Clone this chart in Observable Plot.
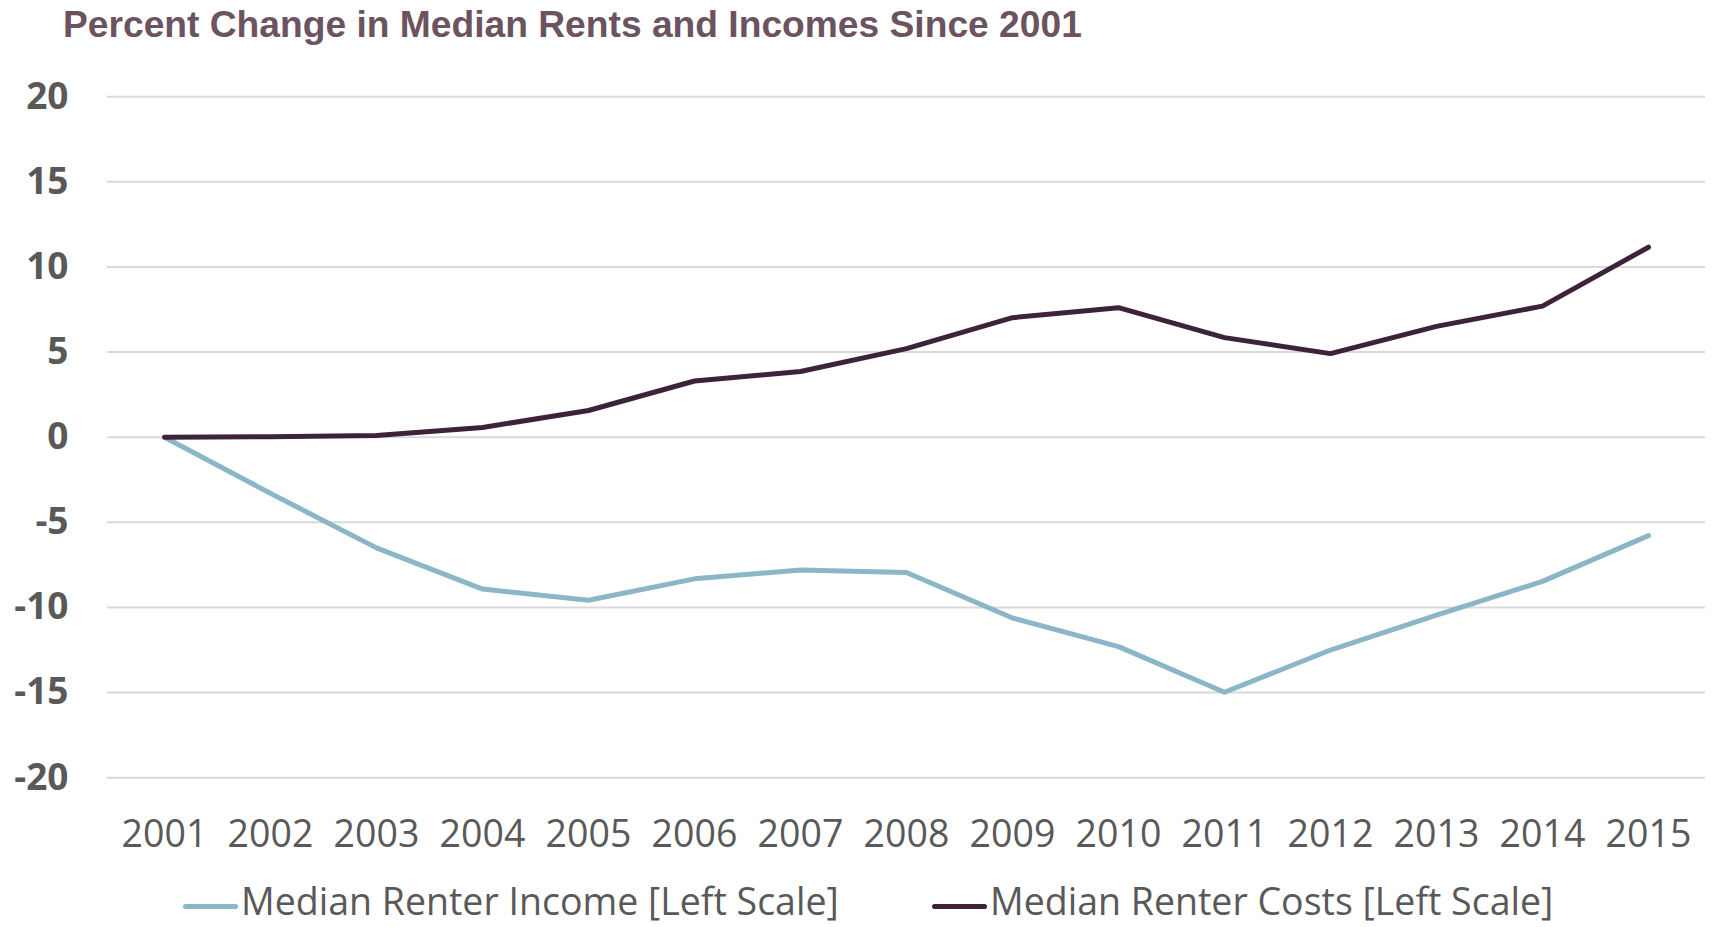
<!DOCTYPE html>
<html><head><meta charset="utf-8">
<script src="https://cdn.jsdelivr.net/npm/d3@7"></script>
<script src="https://cdn.jsdelivr.net/npm/@observablehq/plot@0.6"></script>
<style>
body{margin:0;background:#fff;width:1714px;height:927px;position:relative;overflow:hidden}
#title{position:absolute;left:63px;top:6px;font:bold 37.2px "Liberation Sans",Arial,sans-serif;line-height:37px;color:#6b5360;white-space:nowrap}
#chart{position:absolute;left:0;top:50px}
.legtext{position:absolute;top:875px;font-family:"Open Sans",sans-serif;font-size:37.5px;line-height:1.362;color:#595959;white-space:nowrap}
.sw{position:absolute;top:904px;height:5px;width:55px;border-radius:3px}
</style></head><body>
<div id="title">Percent Change in Median Rents and Incomes Since 2001</div>
<div id="chart"></div>
<div id="legend"></div>
<script>
const years = [2001,2002,2003,2004,2005,2006,2007,2008,2009,2010,2011,2012,2013,2014,2015];
const incomeValues = [0,-3.3,-6.5,-8.92,-9.58,-8.32,-7.8,-7.95,-10.62,-12.3,-14.98,-12.5,-10.45,-8.47,-5.78];
const costValues = [0,0.03,0.1,0.57,1.57,3.3,3.86,5.2,7.02,7.61,5.85,4.91,6.51,7.7,11.16];
const seriesNames = ["Median Renter Income [Left Scale]","Median Renter Costs [Left Scale]"];
const seriesColors = ["#8ab6c8","#3c2339"];
const yTicks = [-20,-15,-10,-5,0,5,10,15,20];

const rows = [];
years.forEach((yr,i)=>rows.push({year:yr,value:incomeValues[i],series:seriesNames[0]}));
years.forEach((yr,i)=>rows.push({year:yr,value:costValues[i],series:seriesNames[1]}));

const plot = Plot.plot({
  width:1714, height:820,
  marginLeft:107, marginRight:9, marginTop:46.2, marginBottom:92.8,
  x:{type:"point", domain:years, padding:0.5, label:null},
  y:{domain:[-20,20], label:null},
  color:{domain:seriesNames, range:seriesColors},
  style:{background:"transparent", color:"#595959", overflow:"visible"},
  marks:[
    Plot.gridY(yTicks,{stroke:"#d9d9d9",strokeOpacity:1,strokeWidth:2}),
    Plot.axisY(yTicks,{tickSize:0,tickPadding:39,fontSize:37,fontWeight:"bold",fontFamily:"Open Sans",fill:"#595959",tickFormat:d=>String(d),label:null}),
    Plot.axisX({tickSize:0,tickPadding:43,fontSize:37.5,fontFamily:"Open Sans",fill:"#595959",tickFormat:d=>String(d),label:null}),
    Plot.line(rows,{x:"year",y:"value",z:"series",stroke:"series",strokeWidth:5,strokeLinecap:"round",strokeLinejoin:"round"})
  ]
});
document.getElementById("chart").appendChild(plot);

const legend = document.getElementById("legend");
const swLeft = [183, 932];
const txLeft = [241, 990];
seriesNames.forEach((name,i)=>{
  const sw = document.createElement("div");
  sw.className = "sw"; sw.style.left = swLeft[i]+"px"; sw.style.background = seriesColors[i];
  legend.appendChild(sw);
  const t = document.createElement("div");
  t.className = "legtext"; t.style.left = txLeft[i]+"px"; t.textContent = name;
  legend.appendChild(t);
});
</script>
</body></html>
